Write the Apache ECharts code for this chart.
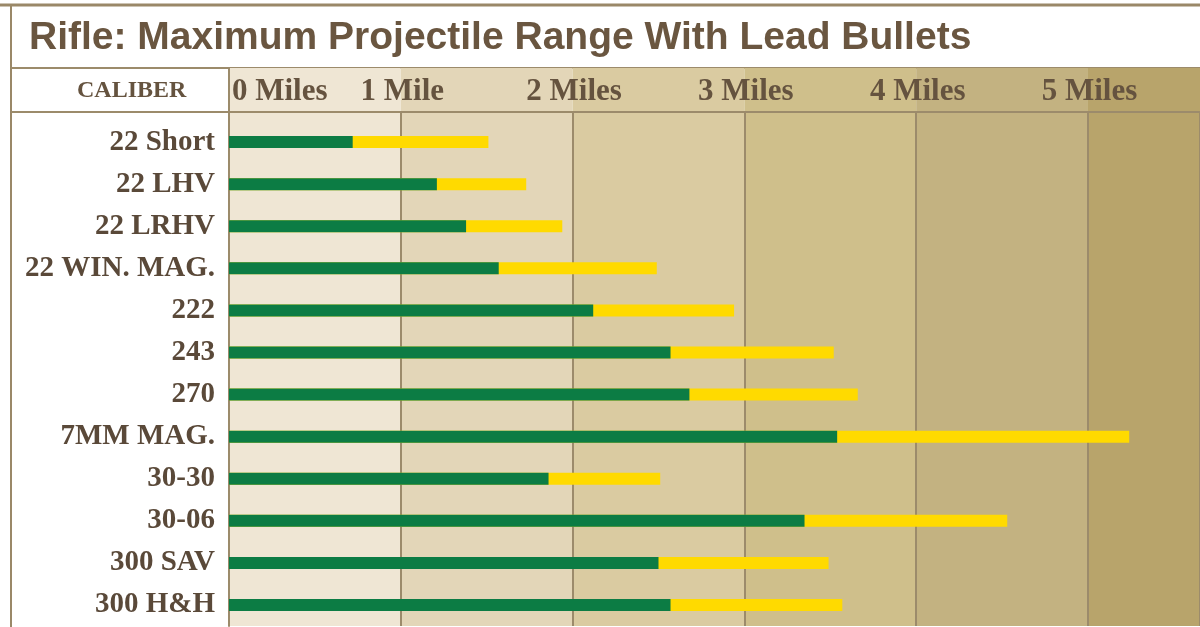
<!DOCTYPE html>
<html><head><meta charset="utf-8">
<script src="https://cdn.jsdelivr.net/npm/echarts@6/dist/echarts.min.js"></script>
<style>html,body{margin:0;padding:0;background:#fff}#c{width:1200px;height:627px}</style>
</head><body><div id="c"></div>
<script>
const titleText = 'Rifle: Maximum Projectile Range With Lead Bullets';
const headerLabel = 'CALIBER';
const calibers = ['22 Short','22 LHV','22 LRHV','22 WIN. MAG.','222','243','270','7MM MAG.','30-30','30-06','300 SAV','300 H&H'];
// miles, green segment end
const greenRange = [0.72, 1.21, 1.38, 1.57, 2.12, 2.57, 2.68, 3.54, 1.86, 3.35, 2.50, 2.57];
// miles, maximum range (yellow end)
const maxRange = [1.51, 1.73, 1.94, 2.49, 2.94, 3.52, 3.66, 5.24, 2.51, 4.53, 3.49, 3.57];
const tickLabels = ['0 Miles','1 Mile','2 Miles','3 Miles','4 Miles','5 Miles'];
const axisMax = 5.652;

const bandColors = ['#efe6d4','#e3d6b8','#dacba1','#cfbf8b','#c3b281','#b8a46b'];
const brown = '#5a4939';
const lineCol = '#9c8b6b';

const chart = echarts.init(document.getElementById('c'));
function xAx(gi, extra) {
  return Object.assign({
    gridIndex: gi, type: 'value', min: 0, max: axisMax, interval: 1,
    axisLine: {show: false}, axisTick: {show: false}, axisLabel: {show: false},
    splitLine: {show: true, lineStyle: {color: lineCol, width: 2}},
    splitArea: {show: true, areaStyle: {color: bandColors}}
  }, extra || {});
}
function yDummy(gi) {
  return {gridIndex: gi, type: 'category', data: [''], axisTick: {show: false}, axisLabel: {show: false},
    axisLine: {show: true, lineStyle: {color: lineCol, width: 2}}};
}
chart.setOption({
  animation: false,
  title: {
    text: titleText, left: 24, top: 14,
    textStyle: {fontFamily: 'Liberation Sans', fontWeight: 'bold', fontSize: 39, color: '#6a5640'}
  },
  grid: [
    {left: 229, right: 0, top: 68, height: 44},
    {left: 229, right: 0, top: 112, height: 9},
    {left: 229, right: 0, top: 121, height: 505}
  ],
  xAxis: [
    xAx(0, {position: 'bottom',
      splitLine: {show: false},
      axisLine: {show: true, lineStyle: {color: lineCol, width: 2}},
      axisLabel: {show: true, inside: true, margin: 20, verticalAlign: 'middle', showMaxLabel: false,
        alignMinLabel: 'left', padding: [0, 0, 0, 3],
        fontFamily: 'Liberation Serif', fontWeight: 'bold', fontSize: 31, color: '#65533f',
        formatter: v => (tickLabels[Math.round(v)] !== undefined && Math.abs(v - Math.round(v)) < 1e-6) ? tickLabels[Math.round(v)] : ''}}),
    xAx(1),
    xAx(2)
  ],
  yAxis: [
    yDummy(0), yDummy(1),
    {gridIndex: 2, type: 'category', inverse: true, data: calibers,
      axisTick: {show: false},
      axisLine: {show: true, lineStyle: {color: lineCol, width: 2}},
      axisLabel: {margin: 14, padding: [6, 0, 0, 0], fontFamily: 'Liberation Serif', fontWeight: 'bold', fontSize: 29, color: brown}}
  ],
  graphic: [
    {type: 'line', shape: {x1: 0, y1: 5, x2: 1200, y2: 5}, style: {stroke: '#9a8868', lineWidth: 3}},
    {type: 'line', shape: {x1: 11, y1: 5, x2: 11, y2: 627}, style: {stroke: '#9a8868', lineWidth: 2}},
    {type: 'line', shape: {x1: 11, y1: 68, x2: 1200, y2: 68}, style: {stroke: lineCol, lineWidth: 2}},
    {type: 'line', shape: {x1: 11, y1: 112, x2: 229, y2: 112}, style: {stroke: lineCol, lineWidth: 2}},
    {type: 'text', left: 77, top: 79, style: {text: headerLabel, fontFamily: 'Liberation Serif', fontWeight: 'bold', fontSize: 24, fill: '#65533f'}}
  ],
  series: [
    {name: 'Maximum range', type: 'bar', xAxisIndex: 2, yAxisIndex: 2, data: maxRange,
      barWidth: 12, barGap: '-100%', itemStyle: {color: '#ffda00'}, silent: true},
    {name: 'Green range', type: 'bar', xAxisIndex: 2, yAxisIndex: 2, data: greenRange,
      barWidth: 12, barGap: '-100%', itemStyle: {color: '#0c7c44'}, silent: true}
  ]
});
</script></body></html>
